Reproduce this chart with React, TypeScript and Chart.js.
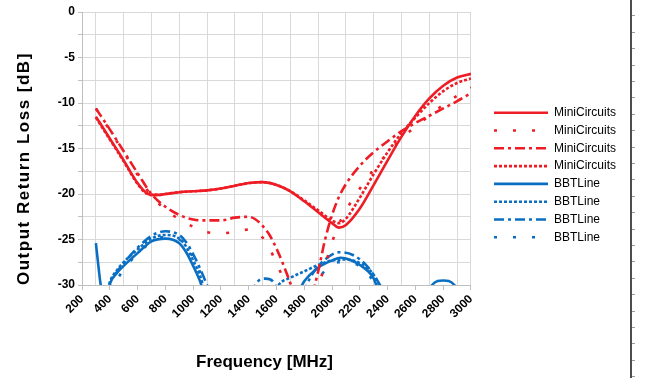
import React, { useEffect, useRef } from "react";
import { Chart, registerables } from "chart.js";

Chart.register(...registerables);

// ---------- data ----------
const xTickLabels = ["200", "400", "600", "800", "1000", "1200", "1400", "1600", "1800", "2000", "2200", "2400", "2600", "2800", "3000"];
const yTickLabels = ["0", "-5", "-10", "-15", "-20", "-25", "-30"];
const seriesNames = ["MiniCircuits", "MiniCircuits", "MiniCircuits", "MiniCircuits", "BBTLine", "BBTLine", "BBTLine", "BBTLine"];

const mcSolidF = [300, 350, 400, 450, 500, 550, 600, 650, 700, 750, 800, 900, 1000, 1100, 1200, 1300, 1400, 1500, 1600, 1700, 1800, 1900, 2000, 2050, 2100, 2200, 2300, 2400, 2500, 2600, 2700, 2800, 2900, 3000];
const mcSolidDb = [-11.5, -12.7, -13.9, -15.1, -16.3, -17.6, -18.8, -19.7, -20.1, -20.1, -20.0, -19.8, -19.7, -19.6, -19.4, -19.1, -18.8, -18.7, -19.0, -19.7, -20.8, -22.0, -23.2, -23.7, -23.4, -21.6, -19.0, -16.3, -13.7, -11.4, -9.5, -8.1, -7.2, -6.8];

const mcDotsF = [300, 400, 500, 600, 700, 800, 900, 1000, 1100, 1200, 1300, 1400, 1500, 1550, 1600, 1650, 1700, 1790, 1880, 1950, 2000, 2050, 2100, 2200, 2300, 2400, 2500, 2600, 2700, 2800, 2900, 3000];
const mcDotsDb = [-10.6, -13.0, -15.4, -17.9, -20.2, -21.7, -22.8, -23.6, -24.2, -24.3, -24.2, -23.9, -24.8, -26.0, -27.6, -29.3, -31, null, -31, -27.8, -25.3, -23.3, -21.8, -19.4, -17.3, -15.5, -13.9, -12.6, -11.4, -10.2, -9.2, -8.3];

const mcDashDotF = [300, 400, 500, 600, 700, 800, 900, 1000, 1100, 1200, 1300, 1400, 1450, 1500, 1550, 1600, 1650, 1700, 1730, 1800, 1860, 1900, 1950, 2000, 2050, 2100, 2200, 2300, 2400, 2500, 2600, 2700, 2800, 2900, 3000];
const mcDashDotDb = [-10.6, -12.9, -15.3, -17.7, -20.0, -21.4, -22.3, -22.8, -22.9, -22.9, -22.6, -22.5, -22.8, -23.5, -24.5, -26.0, -27.8, -29.8, -31, null, -31, -28.5, -25.0, -22.3, -20.3, -18.9, -16.9, -15.4, -14.2, -13.1, -12.2, -11.4, -10.6, -9.8, -8.9];

const mcFineF = [300, 350, 400, 450, 500, 550, 600, 650, 700, 750, 800, 900, 1000, 1100, 1200, 1300, 1400, 1500, 1600, 1700, 1800, 1900, 2000, 2050, 2100, 2200, 2300, 2400, 2500, 2600, 2700, 2800, 2900, 3000];
const mcFineDb = [-11.6, -12.8, -14.0, -15.2, -16.4, -17.7, -18.9, -19.8, -20.1, -20.1, -20.0, -19.8, -19.7, -19.6, -19.4, -19.1, -18.8, -18.7, -19.0, -19.7, -20.7, -21.8, -22.9, -23.2, -22.7, -20.4, -17.8, -15.4, -13.3, -11.6, -10.0, -8.7, -7.8, -7.3];

const bbtSolidF = [300, 315, 330, 345, 365, 385, 400, 450, 500, 600, 700, 800, 900, 950, 1000, 1050, 1080, 1400, 1750, 1800, 1900, 2000, 2060, 2100, 2200, 2300, 2340, 2500, 2690, 2720, 2800, 2880, 2910];
const bbtSolidDb = [-25.4, -27.5, -29.5, -31, null, -31, -29.9, -28.7, -27.9, -26.5, -25.2, -24.9, -25.4, -26.4, -27.9, -29.6, -31, null, -31, -29.6, -28.1, -27.3, -27.0, -27.1, -27.8, -29.3, -31, null, -31, -30.0, -29.5, -30.0, -31];

const bbtFineF = [380, 400, 450, 500, 600, 700, 800, 900, 950, 1000, 1050, 1090, 1300, 1580, 1620, 1700, 1800, 1900, 2000, 2100, 2200, 2300, 2370];
const bbtFineDb = [-31, -29.7, -28.4, -27.5, -26.1, -24.9, -24.5, -24.9, -25.8, -27.3, -29.0, -31, null, -31, -29.9, -29.2, -28.5, -27.8, -27.3, -27.2, -27.6, -28.9, -31];

const bbtDashDotF = [395, 400, 450, 500, 600, 700, 800, 900, 950, 1000, 1050, 1100, 1130, 1300, 1420, 1460, 1520, 1580, 1620, 1700, 1790, 1850, 1950, 2050, 2150, 2250, 2330, 2380];
const bbtDashDotDb = [-31, -30.2, -28.6, -27.6, -25.9, -24.6, -24.1, -24.5, -25.3, -26.6, -28.2, -30.0, -31, null, -31, -29.7, -29.3, -29.7, -31, null, -31, -29.0, -27.2, -26.4, -26.7, -27.9, -29.6, -31];

const bbtDotsF = [420, 450, 500, 600, 700, 800, 900, 1000, 1050, 1090, 1500, 1850, 1950, 2050, 2150, 2250, 2330, 2500, 2760, 2800, 2840];
const bbtDotsDb = [-31, -29.6, -28.3, -26.6, -25.3, -24.7, -25.0, -26.9, -28.6, -31, null, -30.5, -28.4, -27.5, -27.6, -28.6, -30.5, null, -30.3, -30.0, -30.3];

// ---------- styles ----------
const RED = "#ee1c25";
const BLUE = "#0a6fc2";
const FONT = "'Liberation Sans', Arial, sans-serif";

const pts = (f: number[], d: (number | null)[]) => f.map((x, i) => ({ x, y: d[i] }));

function patchTitle(s: any, fn: (ctx: CanvasRenderingContext2D) => void) {
  if (s.__patched) return;
  s.__patched = true;
  const orig = s.drawTitle;
  s.drawTitle = function (...args: any[]) {
    const ctx = this.ctx as CanvasRenderingContext2D;
    ctx.save();
    fn(ctx);
    orig.apply(this, args);
    ctx.restore();
  };
}

export default function App() {
  const ref = useRef<HTMLCanvasElement | null>(null);

  useEffect(() => {
    if (!ref.current) return;
    Chart.defaults.font.family = FONT;
    const mk = (i: number, f: number[], d: (number | null)[], color: string, dash: number[]) => ({
      label: seriesNames[i],
      data: pts(f, d),
      borderColor: color,
      backgroundColor: color,
      borderWidth: 2.6,
      borderDash: dash,
      pointRadius: 0,
      pointHoverRadius: 0,
      fill: false,
      spanGaps: false,
      cubicInterpolationMode: "monotone" as const,
    });
    const sparse = [3, 16];
    const dashDot = [10, 4, 3, 4];
    const fine = [3, 2];
    const chart = new Chart(ref.current, {
      type: "line",
      data: {
        datasets: [
          mk(0, mcSolidF, mcSolidDb, RED, []),
          mk(1, mcDotsF, mcDotsDb, RED, sparse),
          mk(2, mcDashDotF, mcDashDotDb, RED, dashDot),
          mk(3, mcFineF, mcFineDb, RED, fine),
          mk(4, bbtSolidF, bbtSolidDb, BLUE, []),
          mk(5, bbtFineF, bbtFineDb, BLUE, fine),
          mk(6, bbtDashDotF, bbtDashDotDb, BLUE, dashDot),
          mk(7, bbtDotsF, bbtDotsDb, BLUE, sparse),
        ] as any,
      },
      options: {
        animation: false,
        responsive: false,
        events: [],
        layout: { padding: { left: 0, right: 22, top: 12, bottom: 0 } },
        plugins: {
          tooltip: { enabled: false },
          legend: {
            position: "right",
            align: "start",
            maxWidth: 220,
            title: { display: true, text: " ", font: { size: 12 }, padding: { top: 74.5, bottom: 0 } },
            labels: {
              usePointStyle: true,
              pointStyle: "line",
              pointStyleWidth: 54,
              padding: 5.8,
              color: "#000",
              font: { size: 12, family: FONT },
              generateLabels: (c: any) =>
                c.data.datasets.map((ds: any, i: number) => ({
                  text: ds.label,
                  fillStyle: "rgba(0,0,0,0)",
                  strokeStyle: ds.borderColor,
                  lineWidth: 2.6,
                  lineDash: ds.borderDash,
                  lineCap: "butt",
                  pointStyle: "line",
                  hidden: false,
                  datasetIndex: i,
                  fontColor: "#000",
                })),
            },
          },
        },
        scales: {
          x: {
            type: "linear",
            min: 200,
            max: 3000,
            afterFit: (s: any) => {
              s.height = 93;
              patchTitle(s, (ctx) => ctx.translate(-12, 0));
            },
            ticks: {
              stepSize: 100,
              autoSkip: false,
              minRotation: 45,
              maxRotation: 45,
              padding: 2,
              color: "#000",
              font: { size: 12, weight: "bold", family: FONT },
              callback: (v: any) => {
                const n = Number(v);
                return n % 200 === 0 ? xTickLabels[(n - 200) / 200] : "";
              },
            },
            grid: {
              color: (c: any) => {
                const v = c.tick ? c.tick.value : 0;
                return v % 200 === 100 || v === 3000 ? "#d9d9d9" : "rgba(0,0,0,0)";
              },
              tickColor: (c: any) => {
                const v = c.tick ? c.tick.value : 0;
                return v % 200 === 0 ? "#bfbfbf" : "rgba(0,0,0,0)";
              },
              tickLength: 5,
              lineWidth: 1,
            },
            border: { display: true, color: "#bfbfbf", width: 1 },
            title: {
              display: true,
              text: "Frequency [MHz]",
              color: "#000",
              font: { size: 17, weight: "bold", family: FONT },
              padding: { top: 0, bottom: 5.8 },
            },
          },
          y: {
            type: "linear",
            min: -30,
            max: 0,
            afterFit: (s: any) => {
              s.width = 82;
              patchTitle(s, (ctx) => {
                (ctx as any).letterSpacing = "1.5px";
              });
            },
            ticks: {
              stepSize: 2.5,
              autoSkip: false,
              padding: 3,
              color: "#000",
              font: { size: 12, weight: "bold", family: FONT },
              callback: (v: any) => {
                const n = Number(v);
                return n % 5 === 0 ? yTickLabels[Math.round(-n / 5)] : "";
              },
            },
            grid: {
              color: "#d9d9d9",
              tickColor: "#bfbfbf",
              tickLength: 4,
              lineWidth: 1,
            },
            border: { display: true, color: "#bfbfbf", width: 1 },
            title: {
              display: true,
              align: "start",
              text: "Output Return Loss [dB]",
              color: "#000",
              font: { size: 17, weight: "bold", family: FONT },
              padding: { top: 14, bottom: 0 },
            },
          },
          gap: {
            type: "linear",
            position: "right",
            display: true,
            afterFit: (s: any) => {
              s.width = 17.2;
            },
            ticks: { display: false },
            grid: { display: false, drawTicks: false },
            border: { display: false },
          },
        },
      } as any,
    });
    return () => chart.destroy();
  }, []);

  return (
    <div style={{ position: "absolute", left: 0, top: 0, width: 648, height: 378, background: "#fff", overflow: "hidden" }}>
      <canvas ref={ref} width={648} height={378} style={{ display: "block" }} />
      <div style={{ position: "absolute", left: 630, top: 0, width: 1.5, height: 378, background: "#4d4d4d" }} />
      <div
        style={{
          position: "absolute",
          left: 631.5,
          top: 0,
          width: 3,
          height: 378,
          backgroundImage: "repeating-linear-gradient(to bottom, transparent 0px, transparent 15.4px, #9a9a9a 15.4px, #9a9a9a 16.4px)",
        }}
      />
    </div>
  );
}
